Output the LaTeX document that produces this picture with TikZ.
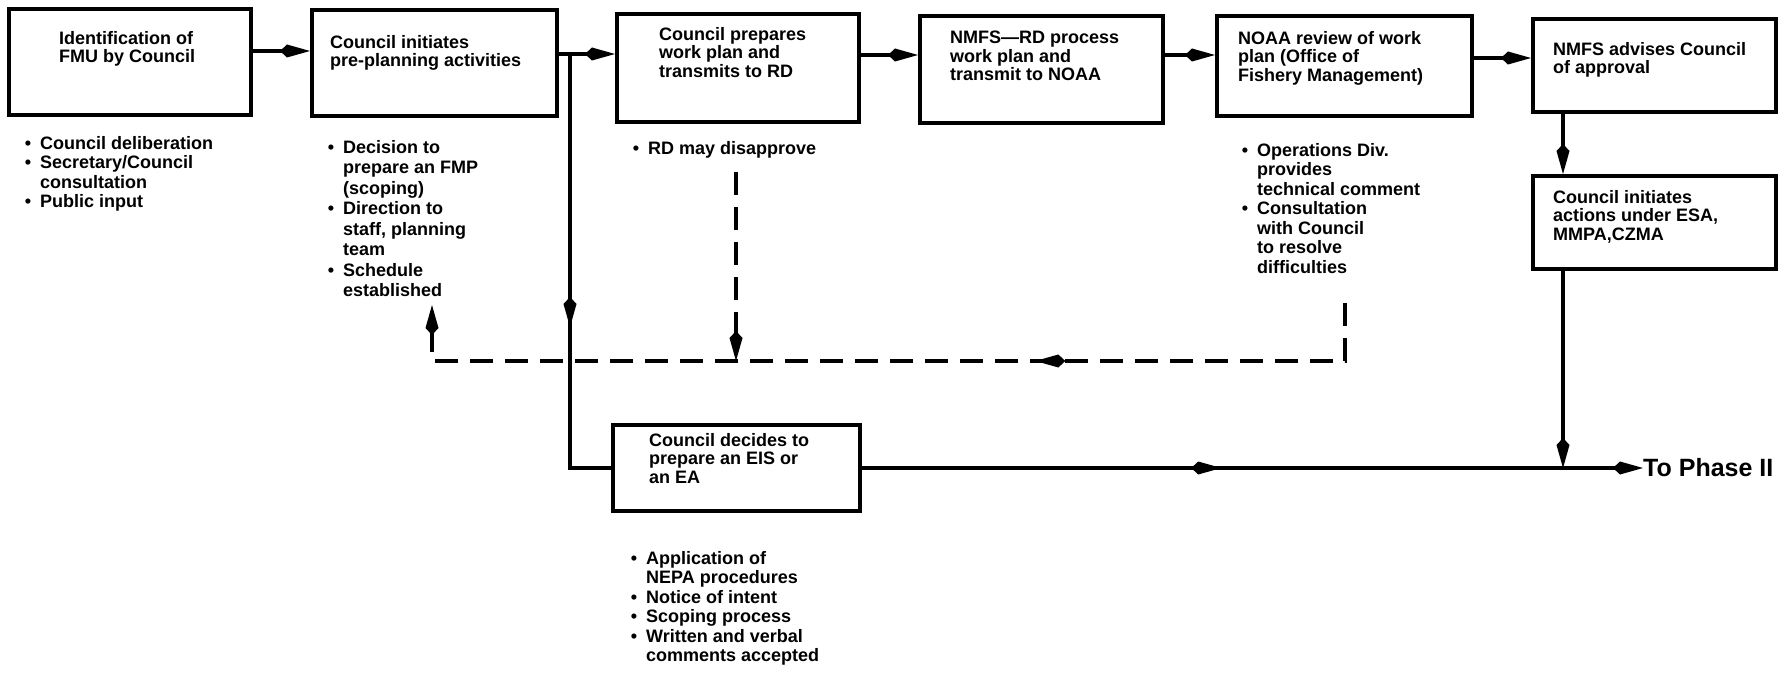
\documentclass[tikz,border=0pt]{standalone}
\usepackage{fontspec}
\setmainfont{Liberation Sans}
\usetikzlibrary{arrows.meta,decorations.markings,calc}
\tikzset{>={Kite[length=30pt,width=13pt,inset=7pt]}}
\newcommand{\bl}{\llap{\textbullet\hspace{9pt}}}
\begin{document}
\begin{tikzpicture}[x=1pt,y=-1pt,
  box/.style={draw, line width=4pt, rectangle, inner sep=0pt},
  txt/.style={anchor=north west, align=left, inner sep=0pt, font=\fontsize{18}{18.5}\selectfont\bfseries},
  blist/.style={anchor=north west, align=left, inner sep=0pt, font=\fontsize{18}{19.5}\selectfont\bfseries},
  ln/.style={line width=3.5pt},
  conn/.style={line width=3.5pt, ->},
  dsh/.style={line width=3.5pt, dash pattern=on 23pt off 12pt},
  midarr/.style={postaction={decorate}, decoration={markings, mark=at position #1 with {\arrow{>}}}}
]
\fill[white] (0,0) rectangle (1792,674);
\useasboundingbox (0,0) rectangle (1792,674);

% boxes
\node[box, minimum width=242pt, minimum height=106pt] (b1) at (130,62) {};
\node[box, minimum width=245pt, minimum height=106pt] (b2) at (434.5,63) {};
\node[box, minimum width=242pt, minimum height=108pt] (b3) at (738,68) {};
\node[box, minimum width=243pt, minimum height=107pt] (b4) at (1041.5,69.5) {};
\node[box, minimum width=255pt, minimum height=100pt] (b5) at (1344.5,66) {};
\node[box, minimum width=243pt, minimum height=93pt] (b6) at (1654.5,65.5) {};
\node[box, minimum width=243pt, minimum height=93pt] (b7) at (1654.5,222.5) {};
\node[box, minimum width=247pt, minimum height=86pt] (b8) at (736.5,468) {};

% box texts
\node[txt] (t1) at (59,31) {Identification of\\FMU by Council};
\node[txt] (t2) at (330,35) {Council initiates\\pre-planning activities};
\node[txt] (t3) at (659,27) {Council prepares\\work plan and\\transmits to RD};
\node[txt] (t4) at (950,31) {NMFS—RD process\\work plan and\\transmit to NOAA};
\node[txt] (t5) at (1238,31) {NOAA review of work\\plan (Office of\\Fishery Management)};
\node[txt] (t6) at (1553,42) {NMFS advises Council\\ of approval};
\node[txt] (t7) at (1553,190) {Council initiates\\actions under ESA,\\MMPA,CZMA};
\node[txt] (t8) at (649,433) {Council decides to\\prepare an EIS or\\an EA};

% bullet lists
\node[blist] (l1) at (40,136) {\bl Council deliberation\\\bl Secretary/Council\\consultation\\\bl Public input};
\node[blist, font=\fontsize{18}{20.5}\selectfont\bfseries] (l2) at (343,140) {\bl Decision to\\prepare an FMP\\(scoping)\\\bl Direction to\\staff, planning\\team\\\bl Schedule\\established};
\node[blist] (l3) at (648,141) {\bl RD may disapprove};
\node[blist] (l5) at (1257,143) {\bl Operations Div.\\provides\\technical comment\\\bl Consultation\\with Council\\to resolve\\difficulties};
\node[blist] (l8) at (646,551) {\bl Application of\\NEPA procedures\\\bl Notice of intent\\\bl Scoping process\\\bl Written and verbal\\comments accepted};

\node[anchor=west, inner sep=0pt, font=\fontsize{25}{27}\selectfont\bfseries] (ph) at (1643,468) {To Phase II};

% helper coordinates
\coordinate (y51) at (0,51);
\coordinate (y55) at (0,55);
\coordinate (y58) at (0,58);
\coordinate (j) at (570,54);
\coordinate (v) at (1563,0);
\coordinate (dy) at (0,361);
\coordinate (d1) at (1345,303);
\coordinate (d2) at (432,305);
\coordinate (r1) at (736,172);

% connectors
\draw[conn] (b1.east|-y51) -- (b2.west|-y51);
\draw[ln] (b2.east|-j) -- (j);
\draw[conn] (j) -- (b3.west|-j);
\draw[ln, midarr=0.6] (j) |- (b8.west);
\draw[conn] (b3.east|-y55) -- (b4.west|-y55);
\draw[conn] (b4.east|-y55) -- (b5.west|-y55);
\draw[conn] (b5.east|-y58) -- (b6.west|-y58);
\draw[conn] (b6.south-|v) -- (b7.north-|v);
\draw[conn] (b7.south-|v) -- (v|-b8.east);
\draw[conn, midarr=0.46] (b8.east) -- (ph.west);

% dashed return loop
\draw[dsh, ->, midarr=0.358] (d1) -- (d1|-dy) -- (d2|-dy) -- (d2);
\draw[dsh, ->] (r1) -- (r1|-dy);
\end{tikzpicture}
\end{document}
